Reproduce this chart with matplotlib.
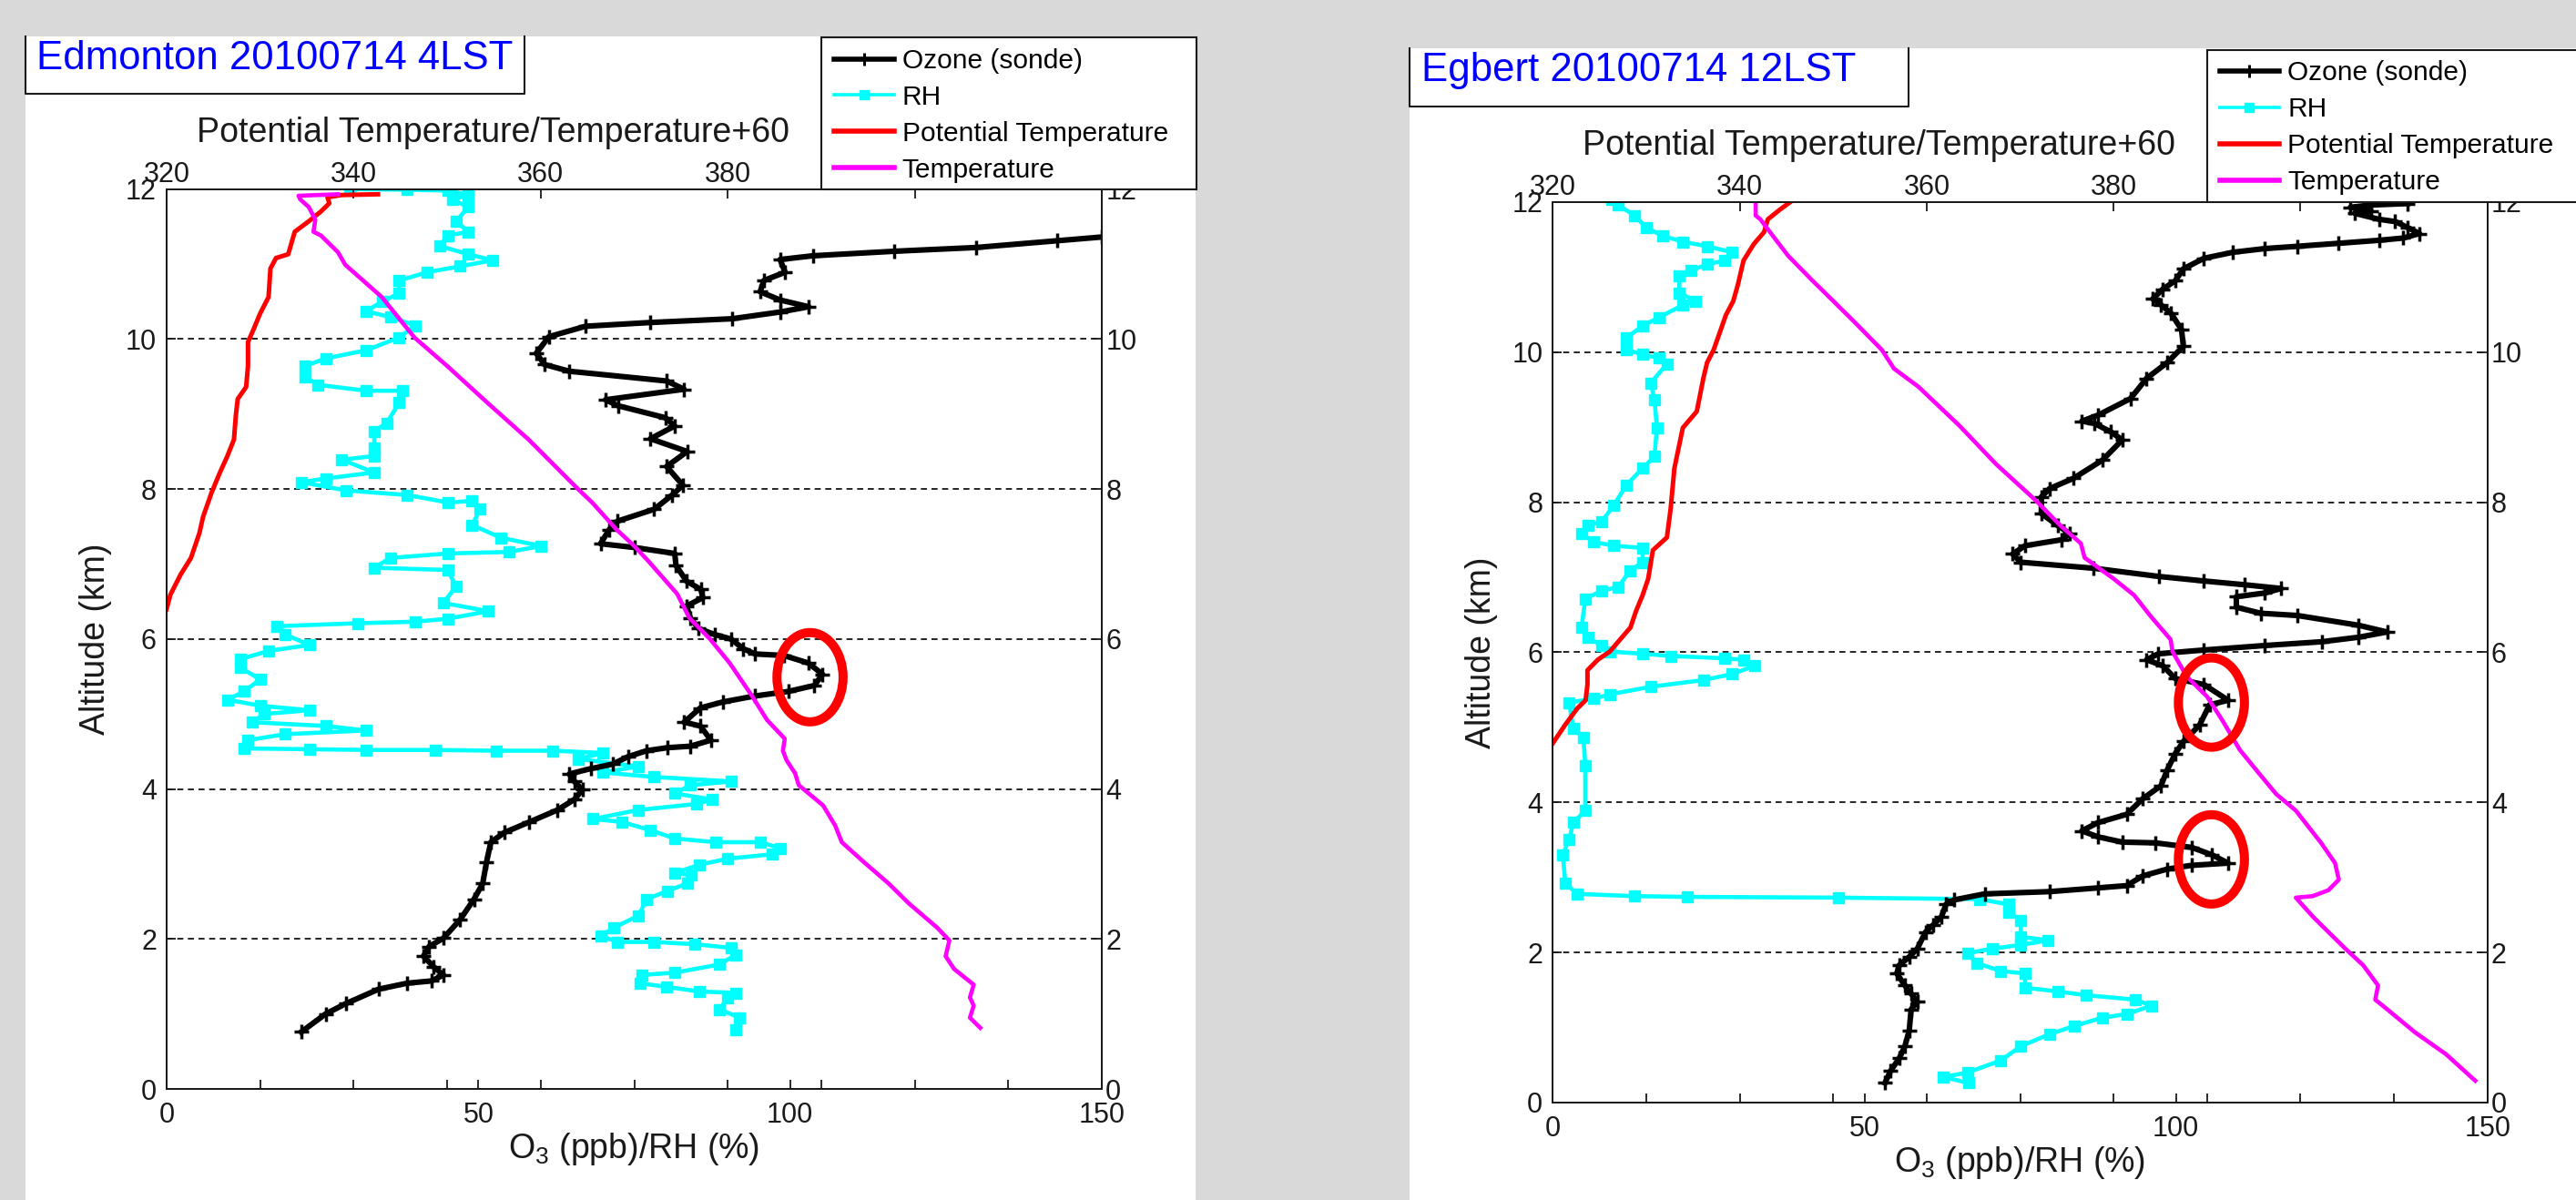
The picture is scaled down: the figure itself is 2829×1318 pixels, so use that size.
import numpy as np
import matplotlib
matplotlib.use("Agg")
import matplotlib.pyplot as plt
from matplotlib.patches import Rectangle, Ellipse
from matplotlib.lines import Line2D
from matplotlib.ticker import FixedLocator

plt.rcParams['font.family'] = ['Liberation Sans', 'DejaVu Sans']
plt.rcParams['mathtext.fontset'] = 'custom'
plt.rcParams['mathtext.rm'] = 'Liberation Sans'
plt.rcParams['mathtext.it'] = 'Liberation Sans:italic'

W, H = 2829, 1318

# ---- data, each row = [altitude (km), value] ----
# Edmonton 20100714 4LST
edm_ozone = np.array([
    [0.76, 21.6], [1.0, 25.5], [1.14, 28.8], [1.33, 34.0], [1.41, 38.6], [1.44, 42.5],
    [1.52, 44.4], [1.63, 42.8], [1.77, 41.2], [1.90, 42.1], [2.01, 44.4], [2.26, 47.1],
    [2.53, 49.3], [2.74, 50.7], [3.02, 51.3], [3.29, 52.0], [3.42, 54.2], [3.56, 58.2],
    [3.72, 62.7], [3.86, 65.4], [3.99, 66.7], [4.10, 65.4], [4.20, 64.6], [4.27, 68.0],
    [4.33, 71.5], [4.43, 74.0], [4.51, 77.0], [4.55, 80.3], [4.57, 84.0], [4.65, 87.3],
    [4.84, 85.6], [4.89, 83.0], [5.08, 85.6], [5.16, 89.2], [5.24, 94.4], [5.30, 99.7],
    [5.38, 103.9], [5.53, 105.2], [5.68, 102.9], [5.78, 99.0], [5.80, 94.4], [5.87, 92.5],
    [6.00, 90.5], [6.06, 87.9], [6.14, 85.3], [6.28, 84.0], [6.44, 83.4], [6.55, 86.0],
    [6.66, 85.7], [6.77, 83.4], [6.98, 81.7], [7.14, 81.5], [7.22, 75.0], [7.27, 69.6],
    [7.46, 71.0], [7.57, 72.3], [7.73, 78.2], [7.92, 81.1], [8.05, 82.8], [8.30, 80.2],
    [8.50, 83.5], [8.67, 77.6], [8.84, 81.5], [8.95, 80.0], [9.11, 72.4], [9.19, 70.4],
    [9.33, 83.0], [9.44, 80.2], [9.57, 64.6], [9.66, 60.6], [9.81, 59.3], [10.03, 61.3],
    [10.17, 67.2], [10.22, 77.6], [10.27, 90.7], [10.36, 98.4], [10.43, 103.0], [10.52, 98.4],
    [10.63, 95.2], [10.78, 95.8], [10.89, 99.2], [11.06, 98.4], [11.11, 103.7], [11.17, 116.7],
    [11.22, 129.8], [11.31, 142.8], [11.36, 150.0]])

edm_rh = np.array([
    [0.79, 91.3], [0.95, 91.9], [1.06, 88.7], [1.22, 90.0], [1.28, 91.3], [1.30, 85.4],
    [1.36, 80.2], [1.41, 75.9], [1.52, 76.2], [1.55, 81.5], [1.66, 88.7], [1.79, 91.3],
    [1.88, 90.6], [1.93, 84.7], [1.96, 78.2], [1.96, 72.3], [2.04, 69.7], [2.15, 71.7],
    [2.31, 75.7], [2.53, 77.0], [2.64, 80.3], [2.74, 83.5], [2.85, 84.2], [2.88, 81.5],
    [2.99, 85.5], [3.07, 90.0], [3.13, 97.2], [3.21, 98.5], [3.29, 95.2], [3.29, 88.0],
    [3.34, 81.5], [3.45, 77.6], [3.56, 73.0], [3.60, 68.4], [3.72, 75.7], [3.80, 85.0],
    [3.86, 87.5], [3.94, 81.5], [4.05, 84.0], [4.10, 90.6], [4.16, 78.2], [4.22, 70.0],
    [4.30, 75.6], [4.40, 66.0], [4.48, 70.0], [4.51, 62.0], [4.51, 52.9], [4.52, 43.1],
    [4.52, 32.0], [4.53, 22.9], [4.54, 12.4], [4.65, 13.0], [4.73, 19.0], [4.78, 32.0],
    [4.84, 25.5], [4.89, 13.7], [5.00, 15.7], [5.05, 22.9], [5.11, 15.0], [5.19, 9.8],
    [5.30, 12.4], [5.46, 15.0], [5.62, 11.8], [5.73, 11.8], [5.84, 16.3], [5.92, 22.9],
    [6.06, 19.0], [6.17, 17.6], [6.21, 30.7], [6.23, 39.9], [6.27, 45.1], [6.37, 51.6],
    [6.48, 44.4], [6.70, 46.4], [6.92, 45.1], [6.95, 33.3], [7.08, 35.9], [7.14, 45.1],
    [7.16, 54.9], [7.24, 60.1], [7.35, 53.6], [7.52, 49.0], [7.73, 50.3], [7.84, 49.0],
    [7.82, 45.1], [7.92, 38.6], [7.98, 28.8], [8.09, 21.6], [8.14, 25.5], [8.22, 33.3],
    [8.39, 28.1], [8.44, 33.3], [8.55, 33.3], [8.77, 33.3], [8.88, 35.3], [9.15, 37.3],
    [9.31, 37.9], [9.31, 32.0], [9.39, 24.2], [9.50, 22.2], [9.64, 22.2], [9.74, 25.5],
    [9.85, 32.0], [10.02, 37.3], [10.18, 39.9], [10.29, 36.0], [10.37, 32.0], [10.50, 34.6],
    [10.61, 37.3], [10.78, 37.3], [10.89, 41.8], [10.97, 47.1], [11.05, 52.3], [11.13, 48.4],
    [11.24, 43.8], [11.38, 45.1], [11.43, 48.4], [11.57, 46.4], [11.76, 48.4], [11.86, 45.8],
    [11.92, 48.4], [11.98, 45.1], [11.99, 38.6], [12.0, 29.4]])

edm_theta = np.array([
    [6.40, 320.0], [6.59, 320.4], [6.86, 321.5], [7.08, 322.6], [7.41, 323.5], [7.63, 323.9],
    [7.95, 324.8], [8.22, 325.7], [8.44, 326.5], [8.66, 327.2], [8.98, 327.4], [9.20, 327.6],
    [9.36, 328.5], [9.64, 328.7], [9.96, 328.7], [10.13, 329.3], [10.34, 330.0], [10.56, 330.9],
    [10.94, 331.1], [11.08, 331.7], [11.13, 333.0], [11.43, 333.7], [11.57, 335.2], [11.70, 336.5],
    [11.81, 337.4], [11.89, 337.2], [11.92, 338.7], [11.93, 342.6]])

edm_temp = np.array([
    [0.815, 407.0], [0.95, 405.9], [1.11, 406.3], [1.22, 405.9], [1.39, 406.3], [1.60, 404.2],
    [1.77, 403.3], [1.98, 403.7], [2.15, 402.4], [2.47, 399.4], [2.74, 397.2], [3.02, 394.6],
    [3.29, 392.2], [3.51, 391.5], [3.78, 390.2], [4.05, 387.6], [4.21, 387.2], [4.38, 386.3],
    [4.51, 385.9], [4.67, 386.1], [4.92, 384.2], [5.24, 382.6], [5.68, 380.2], [6.00, 378.1],
    [6.28, 375.9], [6.60, 374.6], [7.04, 371.5], [7.24, 370.0], [7.46, 368.1], [7.82, 365.5],
    [8.01, 363.9], [8.66, 358.7], [9.15, 354.3], [9.64, 350.0], [10.02, 346.5], [10.56, 343.0],
    [10.99, 339.1], [11.16, 338.3], [11.38, 336.5], [11.43, 335.7], [11.59, 335.9], [11.76, 335.2],
    [11.86, 334.3], [11.91, 334.1], [11.93, 338.3]])

# Egbert 20100714 12LST
egb_ozone = np.array([
    [0.26, 53.3], [0.42, 54.2], [0.59, 55.6], [0.75, 56.5], [0.96, 57.2], [1.24, 57.5],
    [1.34, 58.5], [1.45, 57.5], [1.56, 56.5], [1.72, 55.2], [1.83, 55.6], [1.94, 57.2],
    [2.05, 58.5], [2.27, 59.8], [2.37, 61.1], [2.48, 62.4], [2.64, 63.1], [2.70, 64.4],
    [2.78, 69.3], [2.81, 79.7], [2.86, 87.5], [2.89, 92.1], [3.02, 94.7], [3.11, 98.6],
    [3.16, 102.5], [3.19, 108.4], [3.30, 105.8], [3.40, 102.5], [3.46, 96.7], [3.47, 91.4],
    [3.54, 87.5], [3.62, 84.9], [3.73, 87.5], [3.84, 92.1], [4.05, 94.7], [4.22, 97.6],
    [4.43, 98.6], [4.65, 99.9], [4.81, 101.2], [5.03, 103.8], [5.30, 105.4], [5.36, 108.4],
    [5.57, 104.5], [5.65, 99.9], [5.82, 97.9], [5.90, 95.3], [5.98, 97.2], [6.03, 104.5],
    [6.09, 114.3], [6.14, 123.4], [6.20, 129.3], [6.27, 133.9], [6.36, 129.3], [6.49, 119.5],
    [6.52, 113.6], [6.60, 109.7], [6.74, 109.7], [6.79, 114.3], [6.85, 116.9], [6.90, 111.0],
    [6.95, 104.5], [7.01, 97.3], [7.12, 86.8], [7.20, 75.1], [7.31, 73.8], [7.42, 75.8],
    [7.50, 81.7], [7.58, 83.0], [7.69, 81.0], [7.85, 78.4], [8.07, 78.4], [8.18, 79.7],
    [8.32, 83.6], [8.56, 88.2], [8.83, 91.4], [8.94, 89.5], [9.05, 86.9], [9.08, 84.9],
    [9.16, 87.5], [9.38, 92.7], [9.65, 95.3], [9.86, 98.6], [10.08, 101.2], [10.30, 100.9],
    [10.52, 99.2], [10.63, 97.6], [10.71, 96.3], [10.84, 97.9], [10.95, 99.9], [11.11, 101.2],
    [11.25, 104.5], [11.33, 109.1], [11.38, 114.3], [11.41, 119.5], [11.45, 126.1], [11.49, 132.6],
    [11.52, 136.5], [11.58, 139.1], [11.66, 137.2], [11.74, 135.2], [11.77, 132.6], [11.85, 128.7],
    [11.88, 131.3], [11.93, 128.0], [11.96, 131.3], [11.98, 137.2]])

egb_rh = np.array([
    [0.26, 66.7], [0.34, 62.7], [0.40, 66.6], [0.56, 71.9], [0.75, 75.1], [0.91, 79.7],
    [1.02, 83.7], [1.13, 88.2], [1.18, 92.2], [1.29, 96.1], [1.37, 93.5], [1.43, 85.6],
    [1.48, 81.0], [1.53, 75.8], [1.72, 75.8], [1.75, 71.9], [1.86, 68.0], [1.99, 66.6],
    [2.05, 70.5], [2.10, 75.1], [2.16, 79.4], [2.21, 75.1], [2.43, 75.1], [2.54, 73.1],
    [2.64, 73.1], [2.71, 68.5], [2.73, 45.8], [2.74, 21.6], [2.75, 13.1], [2.78, 3.9],
    [2.92, 2.0], [3.30, 1.6], [3.51, 2.6], [3.73, 3.3], [3.89, 5.2], [4.49, 5.2],
    [4.87, 4.9], [4.98, 3.3], [5.33, 2.6], [5.38, 6.5], [5.44, 9.2], [5.54, 15.7],
    [5.63, 24.2], [5.71, 28.8], [5.82, 32.4], [5.90, 30.7], [5.92, 27.5], [5.95, 19.0],
    [5.98, 14.4], [6.01, 9.2], [6.09, 7.8], [6.20, 5.6], [6.33, 4.6], [6.71, 5.2],
    [6.82, 7.8], [6.87, 10.5], [7.09, 12.4], [7.20, 14.4], [7.39, 14.4], [7.42, 9.8],
    [7.47, 6.5], [7.58, 4.6], [7.69, 5.6], [7.74, 7.8], [7.96, 9.8], [8.23, 11.8],
    [8.45, 14.4], [8.61, 16.3], [8.99, 16.7], [9.37, 16.3], [9.59, 15.7], [9.84, 18.3],
    [9.92, 17.0], [9.97, 14.4], [10.03, 11.8], [10.19, 11.8], [10.35, 14.4], [10.46, 17.0],
    [10.63, 20.9], [10.68, 22.9], [10.79, 20.3], [11.01, 20.3], [11.09, 22.2], [11.17, 24.8],
    [11.22, 27.5], [11.33, 28.8], [11.41, 24.8], [11.47, 20.9], [11.55, 17.6], [11.66, 15.0],
    [11.82, 13.1], [11.96, 10.5], [12.03, 9.5]])

egb_theta = np.array([
    [4.79, 320.0], [5.03, 321.3], [5.25, 322.6], [5.36, 323.5], [5.57, 323.7], [5.76, 323.7],
    [5.90, 324.8], [6.01, 326.1], [6.20, 327.4], [6.33, 328.3], [6.55, 328.9], [6.76, 329.6],
    [6.98, 330.2], [7.36, 330.7], [7.53, 332.2], [7.91, 332.6], [8.45, 333.0], [8.99, 333.9],
    [9.21, 335.4], [9.65, 336.1], [9.86, 336.5], [10.03, 337.2], [10.24, 337.8], [10.49, 338.5],
    [10.68, 339.3], [10.90, 339.8], [11.22, 340.4], [11.44, 341.5], [11.60, 342.6], [11.77, 343.0],
    [11.90, 344.3], [12.00, 345.4]])

egb_temp = np.array([
    [0.29, 418.7], [0.64, 415.6], [0.94, 412.2], [1.26, 409.1], [1.37, 408.0], [1.56, 408.3],
    [1.83, 406.7], [2.05, 404.8], [2.27, 403.0], [2.48, 401.3], [2.73, 399.5], [2.75, 401.3],
    [2.83, 403.0], [2.97, 404.1], [3.19, 403.7], [3.46, 402.2], [3.89, 399.5], [4.11, 397.4],
    [4.38, 395.6], [4.70, 393.5], [5.08, 391.7], [5.41, 390.0], [5.68, 387.8], [6.01, 386.3],
    [6.17, 386.1], [6.49, 383.9], [6.76, 382.2], [6.98, 380.0], [7.26, 376.9], [7.45, 376.5],
    [7.69, 374.3], [8.02, 371.7], [8.51, 367.4], [9.02, 363.5], [9.54, 359.1], [9.78, 356.5],
    [10.03, 355.2], [10.41, 352.2], [10.73, 349.6], [10.95, 347.8], [11.28, 345.2], [11.49, 343.9],
    [11.77, 342.2], [11.82, 341.7], [12.00, 341.7]])

# red rings drawn on the figure: [O3 value, altitude]
edm_rings = [[103.2, 5.49]]
egb_rings = [[105.7, 5.33], [105.7, 3.24]]

labels = ['Ozone (sonde)', 'RH', 'Potential Temperature', 'Temperature']
o3_ticks = [0, 50, 100, 150]
theta_ticks = [320, 340, 360, 380, 400, 420]
# 400 and 420 sit under the legend box in the original, so they show no label
theta_ticklabels = ['320', '340', '360', '380', '', '']
alt_ticks = [0, 2, 4, 6, 8, 10, 12]

INK = '#1a1a1a'


def fx(px):
    return px / W


def fy(py):
    return 1 - py / H


def panel(fig, frame, axbox, title, title_xy, legend_box, ozone, rh, theta, temp, rings):
    # white panel and the little title box
    fig.add_artist(Rectangle((fx(frame[0]), 0), (frame[2] - frame[0]) / W, 1 - frame[1] / H,
                             transform=fig.transFigure, fc='white', ec='none', zorder=-1))
    tb = title_xy[2]
    fig.add_artist(Line2D([fx(frame[0]), fx(frame[0]), fx(tb[0]), fx(tb[0])],
                          [fy(frame[1]), fy(tb[1]), fy(tb[1]), fy(frame[1])],
                          transform=fig.transFigure, color=INK, lw=1.5))
    fig.text(fx(title_xy[0]), fy(title_xy[1]), title, color='#0000ff', fontsize=31.5,
             ha='left', va='baseline')

    l, t, r, b = axbox
    ax = fig.add_axes([fx(l), fy(b), (r - l) / W, (b - t) / H])
    ax_r = ax.twinx()
    ax_t = ax.twiny()

    ax.set_xlim(0, 150)
    ax.set_ylim(0, 12)
    ax_r.set_ylim(0, 12)
    ax_t.set_xlim(320, 420)

    ax.set_xticks(o3_ticks)
    ax.xaxis.set_minor_locator(FixedLocator(np.arange(15, 150, 15)))
    ax.set_yticks(alt_ticks)
    ax_r.set_yticks(alt_ticks)
    ax_t.set_xticks(theta_ticks)
    ax_t.set_xticklabels(theta_ticklabels)

    for a in (ax, ax_r, ax_t):
        for s in a.spines.values():
            s.set_linewidth(1.3)
            s.set_color(INK)
    ax.tick_params(axis='both', which='both', direction='in', length=7, width=1.3,
                   labelsize=22, colors=INK)
    ax.tick_params(axis='x', pad=10)
    ax.tick_params(axis='y', pad=8)
    ax_r.tick_params(axis='y', direction='in', length=7, width=1.3, labelsize=22,
                     colors=INK, pad=3)
    ax_t.tick_params(axis='x', direction='in', length=7, width=1.3, labelsize=22,
                     colors=INK, pad=0.5)

    ax.grid(axis='y', color='black', lw=1.2, ls=(0, (4, 3)))

    ax.set_xlabel(r'$\mathregular{O_3}$ (ppb)/RH (%)', fontsize=27, color=INK)
    ax.xaxis.set_label_coords(0.5, -76 / (b - t))
    ax.xaxis.label.set_va('baseline')
    ax.set_ylabel('Altitude (km)', fontsize=27, color=INK)
    ax.yaxis.set_label_coords(-60 / (r - l), 0.5)
    ax_t.set_xlabel('Potential Temperature/Temperature+60', fontsize=27, color=INK)
    ax_t.xaxis.set_label_coords(0.349, 1 + 52 / (b - t))
    ax_t.xaxis.label.set_va('baseline')

    ax.plot(rh[:, 1], rh[:, 0], color='#00ffff', lw=3.3, marker='s', ms=8,
            mec='#00ffff', zorder=2)
    ax.plot(ozone[:, 1], ozone[:, 0], color='black', lw=4.4, marker='+', ms=11,
            mew=2.5, zorder=3)
    ax_t.plot(theta[:, 1], theta[:, 0], color='#ff0000', lw=3.6)
    ax_t.plot(temp[:, 1], temp[:, 0], color='#ff00ff', lw=3.3)

    for cx, cy in rings:
        ax_t.add_patch(Ellipse((cx, cy), 10.6, 1.19, transform=ax.transData,
                               fill=False, ec='#ff0000', lw=7.2, zorder=10))

    # legend box sits on top of the axes
    lx, ltop, lw_, lbot = legend_box
    fig.add_artist(Rectangle((fx(lx), fy(lbot)), lw_ / W, (lbot - ltop) / H,
                             transform=fig.transFigure, fc='white', ec=INK, lw=1.5, zorder=4))
    handles = [
        Line2D([], [], color='black', lw=4.0, marker='+', ms=10, mew=2.2),
        Line2D([], [], color='#00ffff', lw=2.6, marker='s', ms=6.5, mec='#00ffff'),
        Line2D([], [], color='#ff0000', lw=4.0),
        Line2D([], [], color='#ff00ff', lw=4.0),
    ]
    fig.legend(handles, labels, loc='upper left',
               bbox_to_anchor=(fx(lx + 14), fy(ltop + 12)),
               frameon=False, borderpad=0, borderaxespad=0, handlelength=2.2,
               handletextpad=0.3, labelspacing=0.4, fontsize=21.5, numpoints=1)


fig = plt.figure(figsize=(W / 100, H / 100), dpi=100)
fig.patch.set_facecolor('#d9d9d9')

panel(fig, (27.7, 40, 1313), (183, 207.6, 1210, 1196), 'Edmonton 20100714 4LST',
      (40, 75.9, (576, 103)), (902, 41, 412, 207.6),
      edm_ozone, edm_rh, edm_theta, edm_temp, edm_rings)
panel(fig, (1548, 53, 2829), (1705.4, 221.9, 2731.7, 1210.9), 'Egbert 20100714 12LST',
      (1561, 89.3, (2096, 117)), (2423.6, 54.5, 412, 221.9),
      egb_ozone, egb_rh, egb_theta, egb_temp, egb_rings)

fig.savefig('out.png', dpi=100, facecolor=fig.get_facecolor())
